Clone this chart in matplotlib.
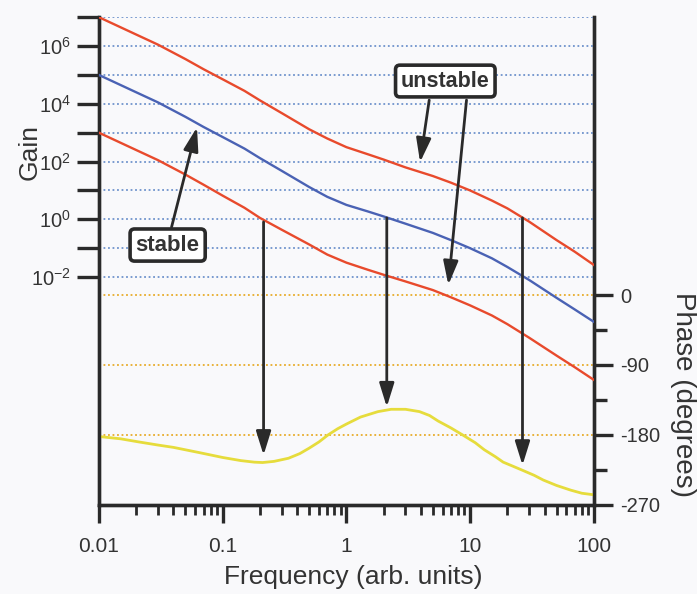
import numpy as np
import matplotlib
matplotlib.use("Agg")
import matplotlib.pyplot as plt
from matplotlib.ticker import FixedLocator, FuncFormatter, LogLocator, NullFormatter

plt.rcParams["font.family"] = ["Liberation Sans", "DejaVu Sans"]
plt.rcParams["mathtext.fontset"] = "custom"
plt.rcParams["mathtext.rm"] = "Liberation Sans"
plt.rcParams["mathtext.it"] = "Liberation Sans"
plt.rcParams["axes.unicode_minus"] = False

# ── data ─────────────────────────────────────────────────────────────────────
freq_gain = [0.01, 0.02, 0.03, 0.05, 0.07, 0.1, 0.15, 0.2, 0.3, 0.5, 0.7, 1,
             1.5, 2, 3, 5, 7, 10, 15, 20, 30, 50, 70, 100]
log_gain_nominal = [5.0, 4.4, 4.05, 3.55, 3.2, 2.85, 2.45, 2.12, 1.68, 1.12, 0.78, 0.5,
                    0.27, 0.1, -0.15, -0.47, -0.72, -1.0, -1.35, -1.65, -2.1, -2.72, -3.12, -3.55]
log_gain_high    = [7.0, 6.4, 6.05, 5.55, 5.2, 4.85, 4.45, 4.12, 3.68, 3.12, 2.8, 2.5,
                    2.25, 2.07, 1.8, 1.5, 1.27, 1.0, 0.65, 0.38, -0.08, -0.72, -1.12, -1.58]
log_gain_low     = [3.0, 2.4, 2.05, 1.55, 1.2, 0.82, 0.4, 0.05, -0.36, -0.87, -1.22, -1.5,
                    -1.75, -1.92, -2.15, -2.45, -2.7, -2.98, -3.33, -3.63, -4.1, -4.72, -5.12, -5.56]

freq_phase = [0.01, 0.015, 0.021, 0.03, 0.04, 0.066, 0.1, 0.14, 0.18, 0.21, 0.26,
              0.34, 0.42, 0.5, 0.6, 0.71, 0.85, 1.0, 1.3, 1.8, 2.3, 3.0, 3.9, 4.7,
              5.5, 7, 8.7, 11, 13, 16, 18.5, 22, 27, 33, 39, 50, 65, 80, 100]
phase_deg  = [-182, -185, -189, -193, -196, -203, -209, -213, -215, -215.5, -214,
              -210, -204, -197, -189, -180, -172, -166, -157, -150, -147, -147, -150, -155,
              -162, -171, -180, -190, -199, -208, -215, -220, -226, -232, -238, -245, -251, -255, -257]

gain_grid_exp = list(range(-2, 8))
phase_grid = [0, -90, -180]
phase_ticks = [0, -90, -180, -270]
phase_minor = [-45, -135, -225]

RED = "#e84a2c"
BLUE = "#4a62b4"
YELLOW = "#e6dc3c"
GRID_BLUE = "#6f93cc"
GRID_ORANGE = "#e8ac2a"
INK = "#2a2a2a"
TXT = "#333333"
BG = "#f9f9fb"

fig = plt.figure(figsize=(6.97, 5.94), dpi=100, facecolor=BG)
ax = fig.add_axes([0.142, 0.150, 0.710, 0.821])
ax.set_xscale("log")
ax.set_yscale("log")
ax.set_xlim(0.01, 100)
ax.set_ylim(10 ** -9.89, 1e7)

ax2 = ax.twinx()
ax2.set_ylim(-270, 357.4)
ax2.set_facecolor(BG)
ax.set_zorder(ax2.get_zorder() + 1)
ax.patch.set_visible(False)

# grid lines
for k in gain_grid_exp:
    ax.axhline(10.0 ** k, color=GRID_BLUE, lw=1.3, ls=(0, (1, 1.5)), zorder=1)
for p in phase_grid:
    ax2.axhline(p, color=GRID_ORANGE, lw=1.3, ls=(0, (1, 1.5)), zorder=1)

# curves
f = np.array(freq_gain)
ax.plot(f, 10.0 ** np.array(log_gain_high), color=RED, lw=1.7, zorder=3)
ax.plot(f, 10.0 ** np.array(log_gain_nominal), color=BLUE, lw=1.7, zorder=3)
ax.plot(f, 10.0 ** np.array(log_gain_low), color=RED, lw=1.7, zorder=3)
ax2.plot(freq_phase, phase_deg, color=YELLOW, lw=2.0, zorder=3)

# spines
for a in (ax, ax2):
    for s in ["left", "right", "bottom"]:
        a.spines[s].set_linewidth(2.4)
        a.spines[s].set_color(INK)
    a.spines["top"].set_visible(False)

# gain ticks
ax.yaxis.set_major_locator(FixedLocator([10.0 ** k for k in gain_grid_exp]))
ax.yaxis.set_minor_locator(FixedLocator([]))
ax.yaxis.set_major_formatter(FuncFormatter(
    lambda v, pos: (r"$10^{%d}$" % round(np.log10(v))) if round(np.log10(v)) % 2 == 0
    and round(np.log10(v)) < 7 else ""))
ax.tick_params(axis="y", which="major", direction="out", length=16, width=2.4,
               color=INK, labelsize=14.5, labelcolor=TXT, pad=4)

# frequency ticks
ax.xaxis.set_major_locator(LogLocator(base=10, numticks=10))
ax.xaxis.set_minor_locator(LogLocator(base=10, subs=np.arange(2, 10), numticks=10))
ax.xaxis.set_minor_formatter(NullFormatter())
ax.xaxis.set_major_formatter(FuncFormatter(lambda v, pos: f"{v:g}"))
ax.tick_params(axis="x", which="major", direction="out", length=13, width=2.4,
               color=INK, labelsize=15, labelcolor=TXT, pad=10)
ax.tick_params(axis="x", which="minor", direction="out", length=7, width=2.0, color=INK)

# phase ticks
ax2.yaxis.set_major_locator(FixedLocator(phase_ticks))
ax2.yaxis.set_minor_locator(FixedLocator(phase_minor))
ax2.tick_params(axis="y", which="major", direction="out", length=14, width=2.4,
                color=INK, labelsize=14.5, labelcolor=TXT, pad=5)
ax2.tick_params(axis="y", which="minor", direction="out", length=9, width=2.4, color=INK)

# axis labels
fig.text(30 / 697, 1 - 152 / 594, "Gain", rotation=90, ha="center", va="center",
         fontsize=19, color=TXT)
fig.text(683 / 697, 1 - 395 / 594, "Phase (degrees)", rotation=270, ha="center",
         va="center", fontsize=20, color=TXT)
fig.text(353 / 697, 1 - 577 / 594, "Frequency (arb. units)", ha="center",
         va="center", fontsize=19, color=TXT)

# annotations
arrow = dict(arrowstyle="-|>,head_length=0.9,head_width=0.28", mutation_scale=16,
             lw=2.0, color=INK, shrinkA=0, shrinkB=0)
box = dict(boxstyle="round,pad=0.25,rounding_size=0.2", fc="white", ec=INK, lw=2.6)

ax.annotate("", xy=(0.062, 10 ** 3.19), xytext=(0.0386, 10 ** -0.27),
            arrowprops=arrow, zorder=5)
ax.text(0.0359, 10 ** -0.89, "stable", ha="center", va="center", fontsize=16,
        fontweight="bold", color=TXT, bbox=box, zorder=6)

ax.annotate("", xy=(3.94, 10 ** 1.98), xytext=(4.67, 10 ** 4.13),
            arrowprops=arrow, zorder=5)
ax.annotate("", xy=(6.67, 10 ** -2.27), xytext=(9.35, 10 ** 4.13),
            arrowprops=arrow, zorder=5)
ax.text(6.3, 10 ** 4.79, "unstable", ha="center", va="center", fontsize=15.5,
        fontweight="bold", color=TXT, bbox=box, zorder=6)

for fx, g_log, ph in [(0.214, -0.09, -206), (2.12, 0.05, -144), (26.5, 0.05, -219)]:
    ax.annotate("", xy=(fx, ph), xycoords=ax2.transData,
                xytext=(fx, 10 ** g_log), textcoords=ax.transData,
                arrowprops=arrow, zorder=5)

fig.savefig("out.png", dpi=100, facecolor=BG)
